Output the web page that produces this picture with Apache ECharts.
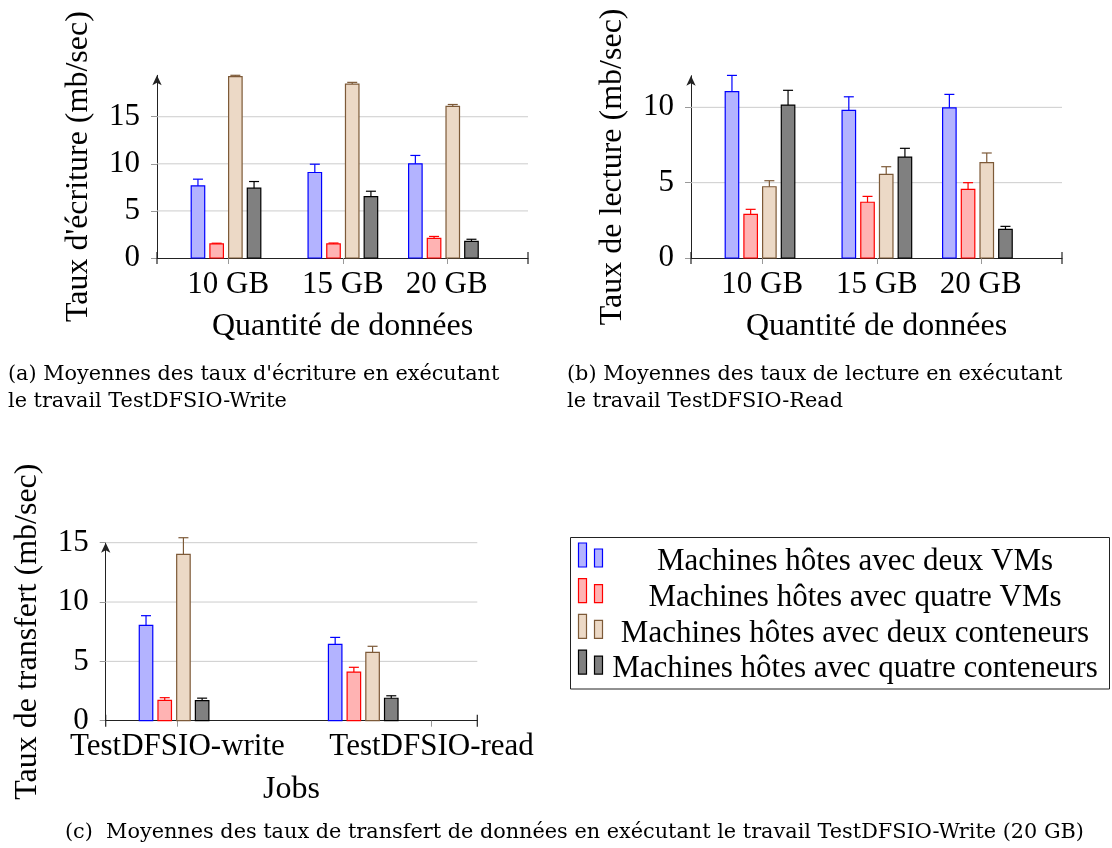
<!DOCTYPE html>
<html>
<head>
<meta charset="utf-8">
<script src="https://cdn.jsdelivr.net/npm/echarts@6/dist/echarts.min.js"></script>
<style>
  html, body { margin: 0; padding: 0; background: #ffffff; }
  #chart { width: 1112px; height: 848px; }
</style>
</head>
<body>
<div id="chart"></div>
<script>
// ---- data -------------------------------------------------------------
const seriesNames = [
  'Machines hôtes avec deux VMs',
  'Machines hôtes avec quatre VMs',
  'Machines hôtes avec deux conteneurs',
  'Machines hôtes avec quatre conteneurs'
];

// (a) write throughput per data size, one row per configuration
const sizeLabels = ['10 GB', '15 GB', '20 GB'];
const writeMean = [
  [7.66, 9.08, 10.0],
  [1.49, 1.49, 2.09],
  [19.25, 18.47, 16.1],
  [7.41, 6.52, 1.77]
];
const writeErr = [
  [0.71, 0.88, 0.89],
  [0.08, 0.10, 0.20],
  [0.15, 0.18, 0.20],
  [0.71, 0.57, 0.22]
];

// (b) read throughput per data size
const readMean = [
  [11.04, 9.80, 9.97],
  [2.90, 3.70, 4.56],
  [4.73, 5.55, 6.33],
  [10.15, 6.70, 1.90]
];
const readErr = [
  [1.08, 0.90, 0.89],
  [0.33, 0.39, 0.44],
  [0.40, 0.51, 0.64],
  [0.98, 0.58, 0.20]
];

// (c) transfer rate per job (20 GB)
const jobLabels = ['TestDFSIO-write', 'TestDFSIO-read'];
const transferMean = [
  [8.04, 6.44],
  [1.72, 4.10],
  [14.02, 5.76],
  [1.70, 1.89]
];
const transferErr = [
  [0.81, 0.58],
  [0.22, 0.40],
  [1.40, 0.51],
  [0.20, 0.21]
];

const ticksA = [0, 5, 10, 15];
const ticksB = [0, 5, 10];
const ticksC = [0, 5, 10, 15];

// ---- layout & style -----------------------------------------------------
// group centres and label anchors along a 0..1 horizontal axis
const sizeBarX = [0.186, 0.501, 0.772];
const sizeTickX = [0.192, 0.501, 0.781];
const jobBarX = [0.184, 0.693];
const jobTickX = [0.193, 0.877];

const BAR_STEP = 18.7;
const BAR_W = 13.5;
const CAP = 5;

const fills = ['#b3b3ff', '#ffb3b3', '#ecd9c6', '#808080'];
const strokes = ['#0000ff', '#ff0000', '#7d5a38', '#000000'];

const FONT = "'Liberation Serif', serif";
const CAP_FONT = "'DejaVu Serif', serif";

// ---- helpers ------------------------------------------------------------
function barSeries(gridIdx, k, xs, means, errs) {
  return {
    type: 'custom',
    name: seriesNames[k],
    xAxisIndex: gridIdx,
    yAxisIndex: gridIdx,
    clip: false,
    z: 3,
    data: means[k].map((v, i) => [xs[i], v, errs[k][i]]),
    renderItem: function (params, api) {
      const x = api.value(0), v = api.value(1), e = api.value(2);
      const base = api.coord([x, 0]);
      const top = api.coord([x, v]);
      const et = api.coord([x, v + e]);
      const cx = base[0] + (k - 1.5) * BAR_STEP;
      const st = { stroke: strokes[k], lineWidth: 1.2 };
      return {
        type: 'group',
        children: [
          { type: 'rect', shape: { x: cx - BAR_W / 2, y: top[1], width: BAR_W, height: base[1] - top[1] },
            style: { fill: fills[k], stroke: strokes[k], lineWidth: 1.2 } },
          { type: 'line', shape: { x1: cx, y1: top[1], x2: cx, y2: et[1] }, style: st },
          { type: 'line', shape: { x1: cx - CAP, y1: et[1], x2: cx + CAP, y2: et[1] }, style: st }
        ]
      };
    }
  };
}

function gridLineSeries(gridIdx, values) {
  return {
    type: 'custom',
    xAxisIndex: gridIdx,
    yAxisIndex: gridIdx,
    silent: true,
    z: 1,
    data: values.filter(v => v > 0).map(v => [v]),
    renderItem: function (params, api) {
      const v = api.value(0);
      const a = api.coord([0, v]);
      const b = api.coord([1, v]);
      return { type: 'line', shape: { x1: a[0], y1: a[1], x2: b[0], y2: b[1] },
               style: { stroke: '#cccccc', lineWidth: 1 } };
    }
  };
}

function xAxisFor(gridIdx, tickX, labels, name) {
  return {
    type: 'value', gridIndex: gridIdx, min: 0, max: 1,
    name: name, nameLocation: 'middle', nameGap: 53,
    nameTextStyle: { fontFamily: FONT, fontSize: 32, color: '#000' },
    axisLine: { show: true, onZero: false, lineStyle: { color: '#222', width: 1 },
                symbol: ['rect', 'rect'], symbolSize: [12, 1.2] },
    axisTick: { show: true, customValues: tickX, length: 6, lineStyle: { color: '#999' } },
    axisLabel: { show: true, customValues: tickX, margin: 11,
                 fontFamily: FONT, fontSize: 31, color: '#000',
                 formatter: v => labels[tickX.indexOf(v)] },
    splitLine: { show: false }
  };
}

function yAxisFor(gridIdx, max, ticks, name) {
  return {
    type: 'value', gridIndex: gridIdx, min: 0, max: max,
    name: name, nameLocation: 'middle', nameGap: 62,
    nameTextStyle: { fontFamily: FONT, fontSize: 32, color: '#000' },
    axisLine: { show: true, onZero: false, lineStyle: { color: '#222', width: 1 },
                symbol: ['none', 'arrow'], symbolSize: [7, 10] },
    axisTick: { show: true, customValues: ticks, length: 6, lineStyle: { color: '#999' } },
    axisLabel: { show: true, customValues: ticks, margin: 17,
                 fontFamily: FONT, fontSize: 31, color: '#000' },
    splitLine: { show: false }
  };
}

// ---- legend drawn as graphic elements ----------------------------------
const legendGraphics = [
  { type: 'rect', shape: { x: 570.5, y: 537.5, width: 539, height: 151.5 },
    style: { fill: 'none', stroke: '#222', lineWidth: 1 } }
];
seriesNames.forEach((nm, k) => {
  const bottom = 567 + k * 35.7;
  legendGraphics.push(
    { type: 'rect', shape: { x: 578.5, y: bottom - 24, width: 8, height: 24 },
      style: { fill: fills[k], stroke: strokes[k], lineWidth: 1.2 } },
    { type: 'rect', shape: { x: 594.5, y: bottom - 18, width: 8, height: 18 },
      style: { fill: fills[k], stroke: strokes[k], lineWidth: 1.2 } },
    { type: 'text', x: 855, y: bottom - 5,
      style: { text: nm, fontFamily: FONT, fontSize: 31, fill: '#000',
               align: 'center', verticalAlign: 'middle' } }
  );
});

// ---- captions -----------------------------------------------------------
const captions = [
  { x: 8, y: 375, text: "(a) Moyennes des taux d'écriture en exécutant" },
  { x: 8, y: 402, text: 'le travail TestDFSIO-Write' },
  { x: 567, y: 375, text: '(b) Moyennes des taux de lecture en exécutant' },
  { x: 567, y: 402, text: 'le travail TestDFSIO-Read' },
  { x: 65, y: 833, text: '(c)  Moyennes des taux de transfert de données en exécutant le travail TestDFSIO-Write (20 GB)' }
];
const captionGraphics = captions.map(c => ({
  type: 'text', x: c.x, y: c.y,
  style: { text: c.text, fontFamily: CAP_FONT, fontSize: 20.8, fill: '#000',
           align: 'left', verticalAlign: 'middle' }
}));

// ---- chart --------------------------------------------------------------
const series = [
  gridLineSeries(0, ticksA), gridLineSeries(1, ticksB), gridLineSeries(2, ticksC)
];
for (let k = 0; k < 4; k++) {
  series.push(barSeries(0, k, sizeBarX, writeMean, writeErr));
  series.push(barSeries(1, k, sizeBarX, readMean, readErr));
  series.push(barSeries(2, k, jobBarX, transferMean, transferErr));
}

const option = {
  animation: false,
  backgroundColor: '#ffffff',
  grid: [
    { left: 157, top: 75.3, width: 371, height: 182.7 },
    { left: 691, top: 75.7, width: 371, height: 182.3 },
    { left: 105.7, top: 542.7, width: 371.6, height: 178 }
  ],
  xAxis: [
    xAxisFor(0, sizeTickX, sizeLabels, 'Quantité de données'),
    xAxisFor(1, sizeTickX, sizeLabels, 'Quantité de données'),
    xAxisFor(2, jobTickX, jobLabels, 'Jobs')
  ],
  yAxis: [
    yAxisFor(0, 19.4, ticksA, "Taux d'écriture (mb/sec)"),
    yAxisFor(1, 12.1, ticksB, 'Taux de lecture (mb/sec)'),
    yAxisFor(2, 15, ticksC, 'Taux de transfert (mb/sec)')
  ],
  graphic: legendGraphics.concat(captionGraphics),
  series: series
};

const chart = echarts.init(document.getElementById('chart'), null, { renderer: 'canvas' });
chart.setOption(option);
</script>
</body>
</html>
